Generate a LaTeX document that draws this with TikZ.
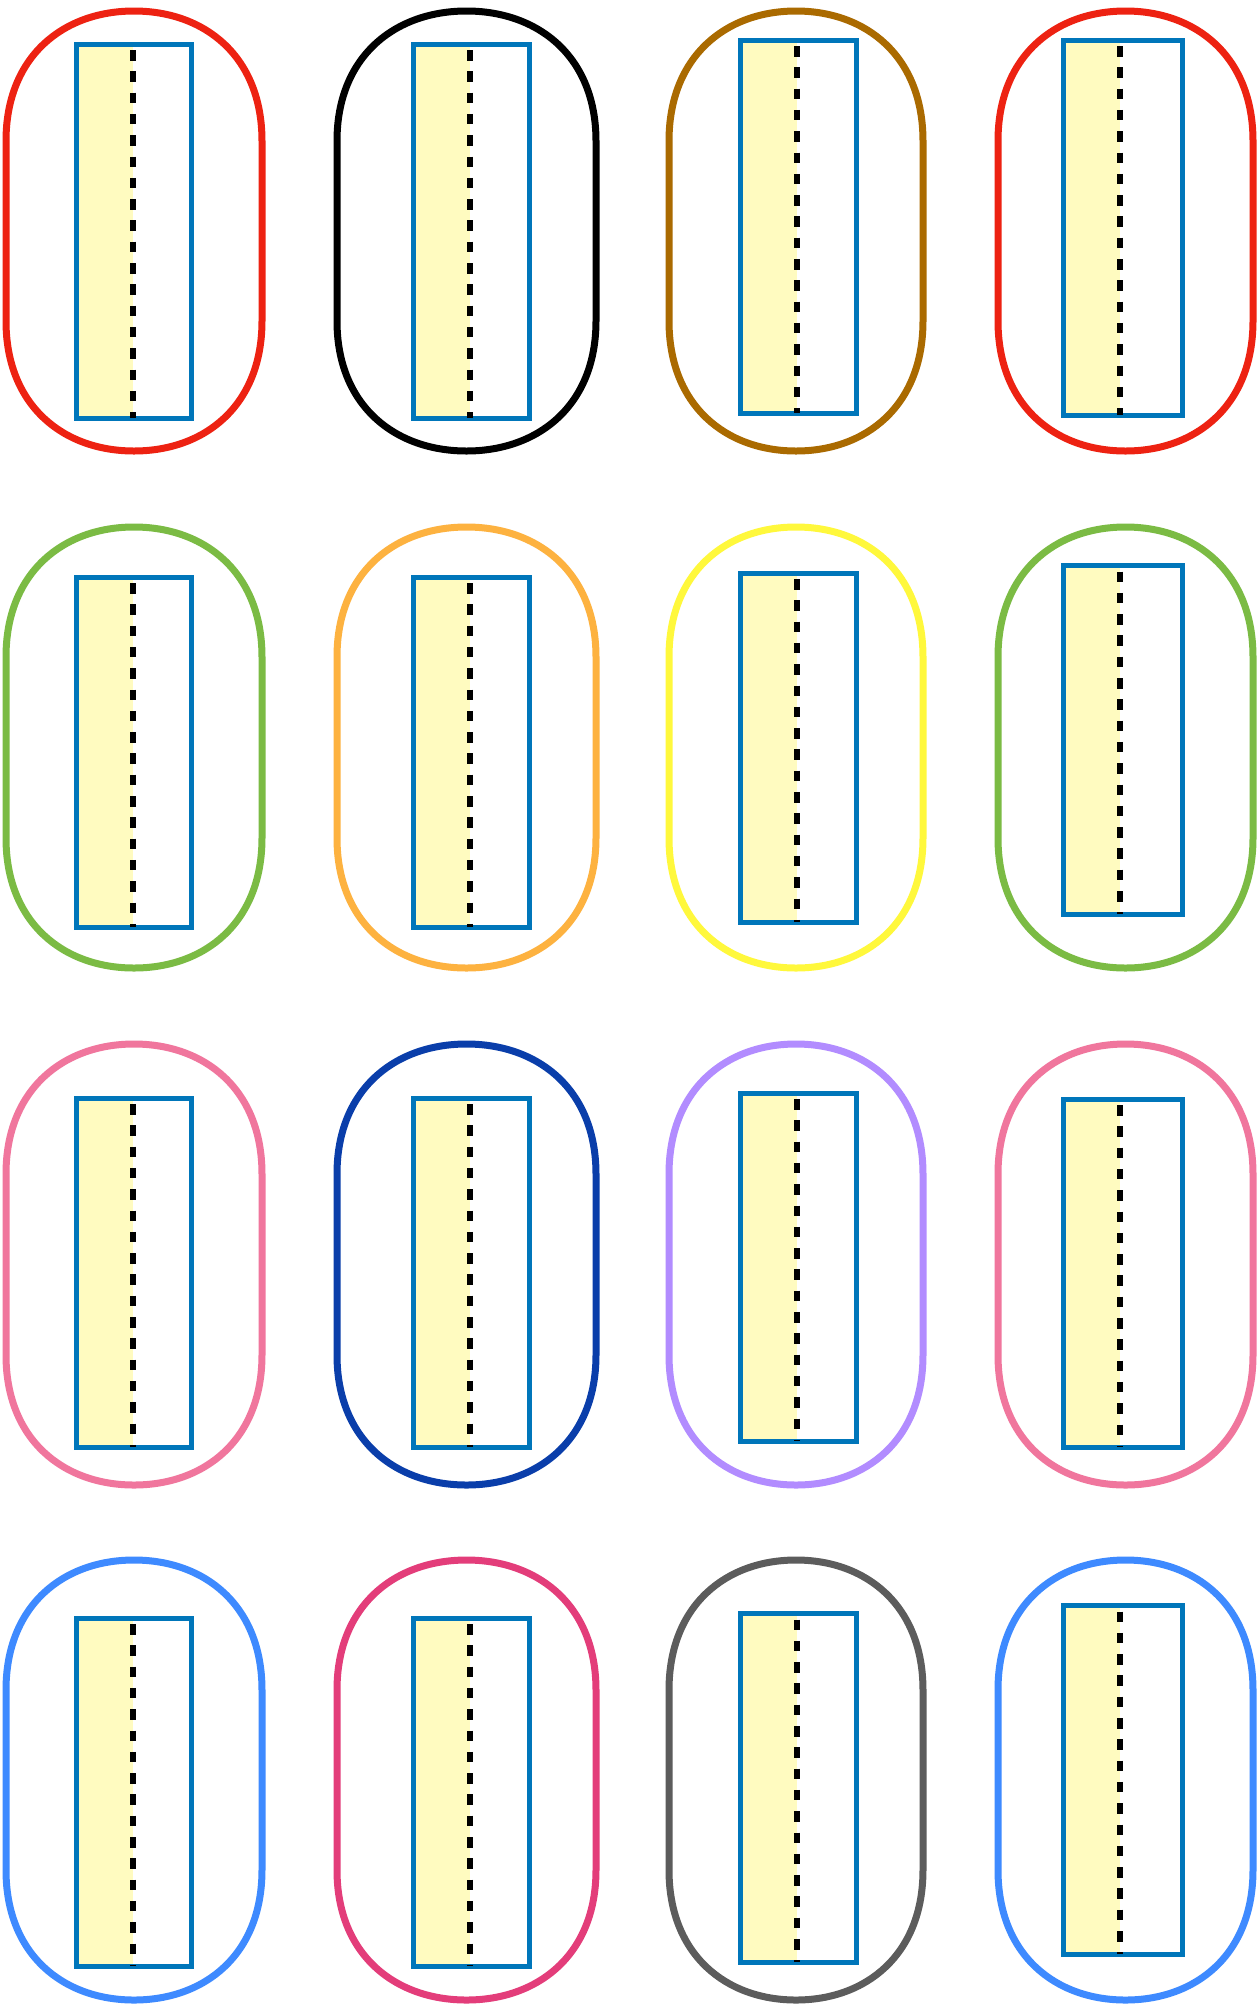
\documentclass[tikz,border=0pt]{standalone}
\usepackage{tikz}
\definecolor{cRed}{RGB}{237,34,18}
\definecolor{cBlack}{RGB}{0,0,0}
\definecolor{cBrown}{RGB}{170,106,0}
\definecolor{cGreen}{RGB}{123,187,68}
\definecolor{cOrange}{RGB}{253,178,64}
\definecolor{cYellow}{RGB}{255,248,60}
\definecolor{cPink}{RGB}{240,118,157}
\definecolor{cNavy}{RGB}{10,62,170}
\definecolor{cLavender}{RGB}{178,140,255}
\definecolor{cBlue}{RGB}{62,138,255}
\definecolor{cMagenta}{RGB}{227,61,122}
\definecolor{cGrey}{RGB}{92,92,92}
\definecolor{boxblue}{RGB}{0,118,186}
\definecolor{paleyellow}{RGB}{255,251,192}
\tikzset{
  outline/.style={line width=7pt, line join=round},
  innerbox/.style={draw=boxblue, line width=5pt},
  yellowfill/.style={fill=paleyellow},
  divider/.style={draw=black, line width=5.5pt, dash pattern=on 10.5pt off 10.8pt}
}
% #1 outline left, #2 outline right, #3 outline top, #4 outline bottom, #5 colour,
% #6 box left, #7 box right, #8 box top, #9 box bottom
\newcommand\drawcell[9]{%
  \pgfmathsetmacro\cxx{(#1+#2)/2}%
  \pgfmathsetmacro\kk{0.55*(#2-#1)/2}%
  \draw[outline, draw=#5] (\cxx,#3)
    .. controls ({\cxx+\kk},#3) and (#2,{#3+45}) .. (#2,{#3+130})
    -- (#2,{#4-130})
    .. controls (#2,{#4-45}) and ({\cxx+\kk},#4) .. (\cxx,#4)
    .. controls ({\cxx-\kk},#4) and (#1,{#4-45}) .. (#1,{#4-130})
    -- (#1,{#3+130})
    .. controls (#1,{#3+45}) and ({\cxx-\kk},#3) .. cycle;
  \fill[yellowfill] (#6,#8) rectangle ({#6+57},#9);
  \draw[innerbox] (#6,#8) rectangle (#7,#9);
  \draw[divider] ({#6+57},{#8+6}) -- ({#6+57},#9);
}
\begin{document}
\begin{tikzpicture}[x=1pt,y=-1pt]
\useasboundingbox[fill=white] (0,0) rectangle (1260,2014);
% Row 1
\drawcell{6}{262}{11}{451}{cRed}{76}{191}{44}{418}
\drawcell{337}{596}{11}{451}{cBlack}{413}{529}{44}{418}
\drawcell{669}{923}{11}{451}{cBrown}{740}{856.5}{40}{413}
\drawcell{998}{1253}{11}{451}{cRed}{1063}{1182}{40}{415}
% Row 2
\drawcell{6}{262}{527}{968}{cGreen}{76}{191}{577}{927}
\drawcell{337}{596}{527}{968}{cOrange}{413}{529}{577}{927}
\drawcell{669}{923}{527}{968}{cYellow}{740}{856.5}{573}{922}
\drawcell{998}{1253}{527}{968}{cGreen}{1063}{1182}{565.5}{914}
% Row 3
\drawcell{6}{262}{1044}{1485}{cPink}{76}{191}{1098}{1447}
\drawcell{337}{596}{1044}{1485}{cNavy}{413}{529}{1098}{1447}
\drawcell{669}{923}{1044}{1485}{cLavender}{740}{856.5}{1093}{1441}
\drawcell{998}{1253}{1044}{1485}{cPink}{1063}{1182}{1099}{1447}
% Row 4
\drawcell{6}{262}{1560}{2000}{cBlue}{76}{191}{1618}{1966}
\drawcell{337}{596}{1560}{2000}{cMagenta}{413}{529}{1618}{1966}
\drawcell{669}{923}{1560}{2000}{cGrey}{740}{856.5}{1613.5}{1962}
\drawcell{998}{1253}{1560}{2000}{cBlue}{1063}{1182}{1605.5}{1954}
\end{tikzpicture}
\end{document}
